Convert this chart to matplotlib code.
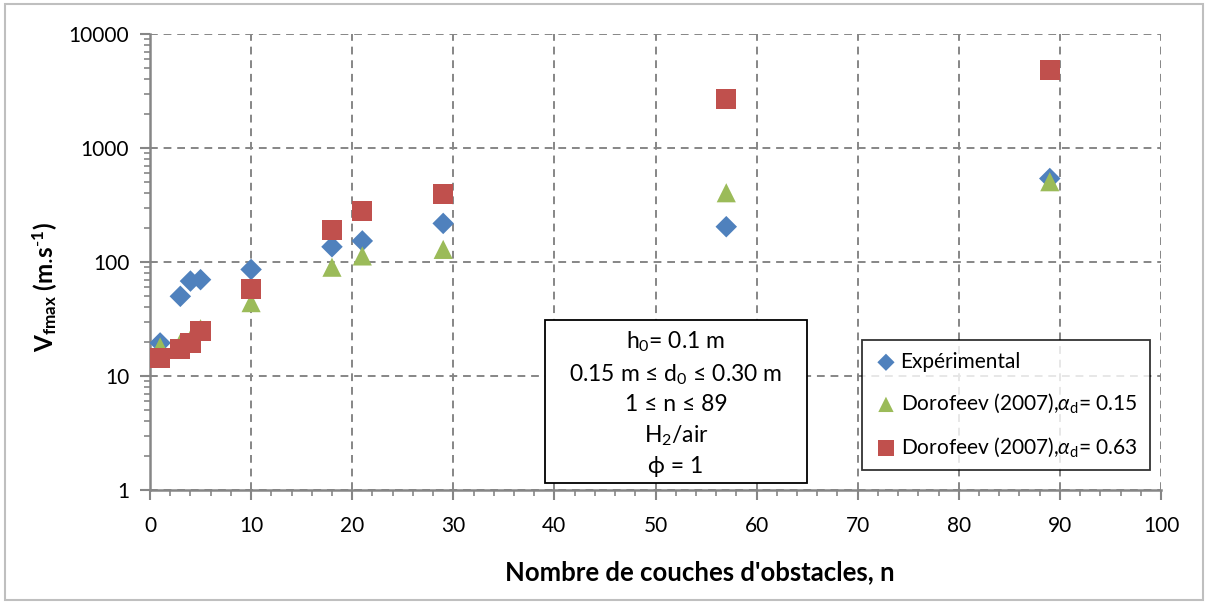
import numpy as np
import matplotlib.pyplot as plt
from matplotlib.patches import Rectangle
from matplotlib.ticker import FixedLocator, MultipleLocator, NullFormatter

plt.rcParams['font.family'] = ['Lato', 'DejaVu Sans']
plt.rcParams['mathtext.fontset'] = 'custom'
plt.rcParams['mathtext.rm'] = 'Lato'
plt.rcParams['mathtext.it'] = 'Lato:italic'
plt.rcParams['mathtext.bf'] = 'Lato:bold'

# nombre de couches d'obstacles
n_exp = [1, 3, 4, 5, 10, 18, 21, 29, 57, 89]
v_exp = [19.5, 50, 68, 70, 86, 136, 153, 218, 204, 540]

n_dor = [1, 3, 4, 5, 10, 18, 21, 29, 57, 89]
v_dor_015 = [18, 19.5, 21, 26, 44, 90, 113, 129, 405, 506]
v_dor_063 = [14.4, 17.3, 19.4, 24.9, 58, 191, 280, 395, 2690, 4830]

x_ticks = [0, 10, 20, 30, 40, 50, 60, 70, 80, 90, 100]
y_ticks = [1, 10, 100, 1000, 10000]
y_ticklabels = ['1', '10', '100', '1000', '10000']

blue = '#4F81BD'
green = '#9BBB59'
red = '#C0504D'
grid_col = '#868686'
axis_col = '#868686'

fig = plt.figure(figsize=(12.09, 6.04), dpi=100)
ax = fig.add_axes([150/1209, 1 - 490/604, 1011/1209, 456/604])

ax.scatter(n_exp, v_exp, marker='D', s=120, color=blue, edgecolors='none',
           label='Expérimental', zorder=3)
ax.scatter(n_dor, v_dor_015, marker='^', s=190, color=green, edgecolors='none',
           label=r'Dorofeev (2007),$\alpha_{\rm d}$= 0.15', zorder=4)
ax.scatter(n_dor, v_dor_063, marker='s', s=210, color=red, edgecolors='none',
           label=r'Dorofeev (2007),$\alpha_{\rm d}$= 0.63', zorder=5)

ax.set_yscale('log')
ax.set_xlim(0, 100)
ax.set_ylim(1, 10000)
ax.set_xticks(x_ticks)
ax.xaxis.set_minor_locator(MultipleLocator(2))
ax.set_yticks(y_ticks)
ax.set_yticklabels(y_ticklabels)
ax.yaxis.set_minor_locator(FixedLocator(
    [m * 10**e for e in range(0, 4) for m in range(2, 10)]))
ax.yaxis.set_minor_formatter(NullFormatter())

ax.tick_params(which='major', length=7, width=1.5, color=axis_col,
               labelsize=15, pad=8)
ax.tick_params(which='minor', length=4, width=1.2, color=axis_col)
ax.tick_params(axis='x', which='major', pad=12)

for side in ['top', 'right']:
    ax.spines[side].set_visible(False)
for side in ['left', 'bottom']:
    ax.spines[side].set_color(axis_col)
    ax.spines[side].set_linewidth(1.8)

ax.grid(True, which='major', color=grid_col, linestyle=(0, (4, 3)),
        linewidth=1.4, zorder=0)
ax.set_axisbelow(True)

ax.set_xlabel("Nombre de couches d'obstacles, n", fontsize=18.5,
              fontweight='bold', va='center')
ax.xaxis.set_label_coords(0.544, -0.18)
ax.set_ylabel(r'$\mathbf{V}_{\mathbf{fmax}}\ \mathbf{(m}\text{.}\mathbf{s}^{\text{-}\mathbf{1}}\mathbf{)}$',
              fontsize=17.5, va='center')
ax.yaxis.set_label_coords(-0.104, 0.445)

# encadré des conditions
ax.add_patch(Rectangle((395/1011, 7/456), 262/1011, 163/456,
                       transform=ax.transAxes, facecolor='white',
                       edgecolor='black', linewidth=1.3, zorder=6))
info = '\n'.join(['h$_0$= 0.1 m',
                  '0.15 m ≤ d$_0$ ≤ 0.30 m',
                  '1 ≤ n ≤ 89',
                  'H$_2$/air',
                  'ϕ = 1'])
ax.text(526/1011, 87/456, info, transform=ax.transAxes, ha='center', va='center',
        fontsize=16.5, linespacing=1.45, zorder=7)

leg = ax.legend(loc='lower left', bbox_to_anchor=(712/1011, 20/456, 288/1011, 130/456),
                mode='expand', fontsize=15, frameon=True, fancybox=False,
                handletextpad=0.1, handlelength=1.2, labelspacing=0.95,
                borderpad=0.55, borderaxespad=0, scatterpoints=1,
                markerscale=0.8)
leg.get_frame().set_edgecolor('black')
leg.get_frame().set_linewidth(1.3)
leg.set_zorder(8)

fig.patches.append(Rectangle((5/1209, 4/604), 1198/1209, 596/604,
                             transform=fig.transFigure, fill=False,
                             edgecolor='#BFBFBF', linewidth=1.5))

fig.savefig('out.png', dpi=100)
